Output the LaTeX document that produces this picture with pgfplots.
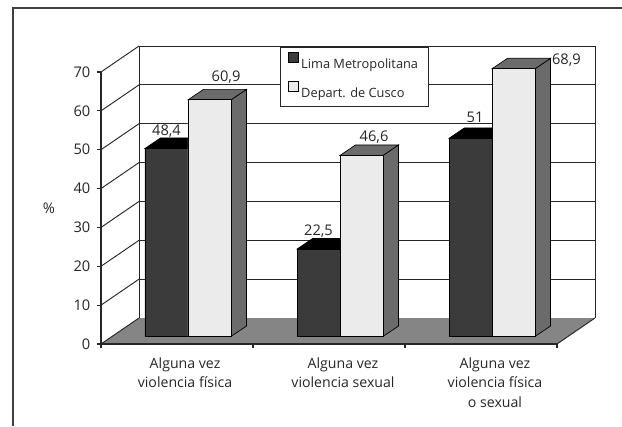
\documentclass[border=0pt]{standalone}
\usepackage{pgfplots}
\usepackage{pgfplotstable}
\usepackage{fontspec}
\setmainfont{Open Sans}
\pgfplotsset{compat=1.18}
\definecolor{ink}{gray}{0.15}
\definecolor{darkface}{gray}{0.23}
\definecolor{lightface}{gray}{0.92}
\definecolor{sideface}{gray}{0.42}
\definecolor{floorc}{gray}{0.52}
\pgfplotstableread{
x y lab dx dy
0 48.4 48,4 -7.875 13
1 22.5 22,5 -7.875 13.5
2 51 51 -4.5 15.6
}\lima
\pgfplotstableread{
x y lab dx dy
0 60.9 60,9 36.8 17.2
1 46.6 46,6 33.8 13.8
2 68.9 68,9 64.1 6.5
}\cusco
\begin{document}
\begin{tikzpicture}
\useasboundingbox (0,0) rectangle (466.5pt,319.5pt);
\draw[line width=0.9pt,black!75] (622*0.75pt,319.5pt-8*0.75pt) -- (13*0.75pt,319.5pt-8*0.75pt) -- (13*0.75pt,0);
\begin{axis}[
  at={(75.75pt,61.5pt)}, anchor=south west,
  scale only axis, width=342pt, height=204pt,
  xmin=-0.5, xmax=2.5, ymin=0, ymax=70,
  clip=false, axis on top,
  axis x line=bottom, axis y line=left,
  axis line style={-, line width=0.8pt, ink},
  xtick={0.053,1.092,2.092},
  xticklabels={{Alguna vez\\violencia física},{Alguna vez\\violencia sexual},{Alguna vez\\violencia física\\o sexual}},
  x tick label style={align=center, font=\fontsize{10.6}{14.5}\selectfont, text=ink, anchor=north, yshift=-3.75pt},
  minor xtick={-0.5,0.5,1.5,2.5},
  xtick style={draw=none},
  minor tick length=3pt,
  minor x tick style={draw=ink, line width=0.8pt},
  ytick={0,10,...,70},
  y tick style={draw=ink, line width=0.8pt},
  tick align=outside, major tick length=3pt,
  y tick label style={font=\fontsize{11}{13}\selectfont, text=ink, xshift=-1.5pt},
  /pgf/number format/assume math mode=true,
  ylabel={\%},
  y label style={at={(axis description cs:-0.114,0.5)}, rotate=-90, anchor=center, font=\fontsize{11}{13}\selectfont, text=ink},
  legend style={at={(rel axis cs:0.3925,1.092)}, anchor=north west, draw=ink, line width=0.7pt, fill=white,
    font=\fontsize{9.6}{11.5}\selectfont, text=ink, inner xsep=5.5pt, inner ysep=3.5pt, row sep=5.2pt, cells={anchor=west}},
  legend image code/.code={\draw[#1, draw=black, line width=0.6pt] (0pt,-3.8pt) rectangle (7.5pt,3.8pt);},
  bar3d/.style={yshift=5.625pt, draw=black, line width=0.5pt, forget plot},
  wall/.style={ink, line width=0.7pt, forget plot, no marks},
  barlabel/.style={nodes near coords, point meta=explicit symbolic,
    visualization depends on={\thisrow{dx} \as \labdx},
    visualization depends on={\thisrow{dy} \as \labdy},
    nodes near coords style={anchor=center, font=\fontsize{11}{13}\selectfont, text=ink, xshift=\labdx pt, yshift=\labdy pt}},
]
% floor
\addplot[fill=floorc, draw=none, forget plot] coordinates {(-0.5,0) (-0.25,6.69) (2.75,6.69) (2.5,0)} --cycle;
% back wall grid
\pgfplotsinvokeforeach{10,20,30,40,50,60,70}{
  \addplot[wall, yshift=19.5pt] coordinates {(-0.25,#1) (2.75,#1)};
  \addplot[wall] coordinates {(-0.5,#1) (-0.25,#1+6.69)};
}
\addplot[wall] coordinates {(-0.5,0) (-0.25,6.69)};
\addplot[wall] coordinates {(2.5,0) (2.75,6.69)};
\addplot[wall, yshift=19.5pt] coordinates {(-0.25,0) (-0.25,70)};
\addplot[wall, yshift=19.5pt] coordinates {(2.75,0) (2.75,70)};
% dark bar tops
\addplot[bar3d, fill=black] coordinates {(-0.2105,48.4) (0.0724,48.4) (0.1744,51.1) (-0.1085,51.1)} --cycle;
\addplot[bar3d, fill=black] coordinates {(0.7895,22.5) (1.0724,22.5) (1.1744,25.2) (0.8915,25.2)} --cycle;
\addplot[bar3d, fill=black] coordinates {(1.7895,51) (2.0724,51) (2.1744,53.7) (1.8915,53.7)} --cycle;
% legend-carrying series drawn as front faces
\addplot[ybar, bar width=32.25pt, bar shift=-7.875pt, yshift=5.625pt, fill=darkface, draw=black, line width=0.6pt, barlabel]
  table[x=x, y=y, meta=lab] {\lima};
\addlegendentry{Lima Metropolitana}
% light bar sides and tops
\addplot[bar3d, fill=sideface] coordinates {(0.3553,0) (0.3553,60.9) (0.4573,63.6) (0.4573,2.7)} --cycle;
\addplot[bar3d, fill=sideface] coordinates {(1.3553,0) (1.3553,46.6) (1.4573,49.3) (1.4573,2.7)} --cycle;
\addplot[bar3d, fill=sideface] coordinates {(2.3553,0) (2.3553,68.9) (2.4573,71.6) (2.4573,2.7)} --cycle;
\addplot[bar3d, fill=sideface] coordinates {(0.0724,60.9) (0.3553,60.9) (0.4573,63.6) (0.1744,63.6)} --cycle;
\addplot[bar3d, fill=sideface] coordinates {(1.0724,46.6) (1.3553,46.6) (1.4573,49.3) (1.1744,49.3)} --cycle;
\addplot[bar3d, fill=sideface] coordinates {(2.0724,68.9) (2.3553,68.9) (2.4573,71.6) (2.1744,71.6)} --cycle;
\addplot[ybar, bar width=32.25pt, bar shift=24.375pt, yshift=5.625pt, fill=lightface, draw=black, line width=0.6pt, barlabel]
  table[x=x, y=y, meta=lab] {\cusco};
\addlegendentry{Depart. de Cusco}
\end{axis}
\end{tikzpicture}
\end{document}
